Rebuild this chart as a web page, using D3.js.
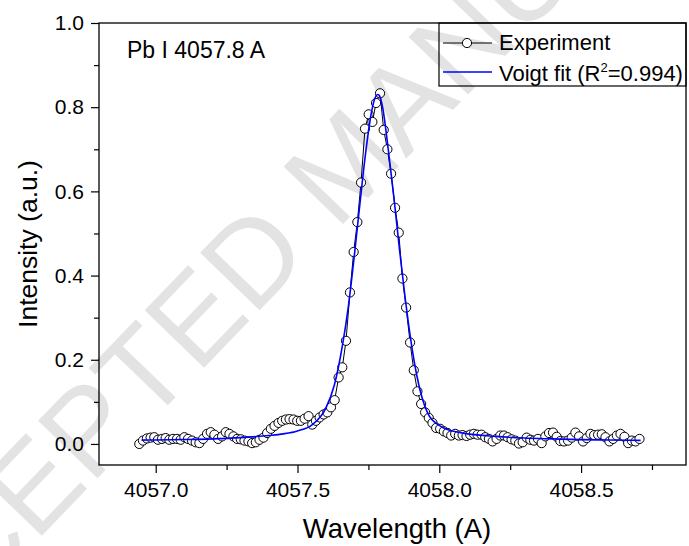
<!DOCTYPE html>
<html>
<head>
<meta charset="utf-8">
<script src="https://cdn.jsdelivr.net/npm/d3@7"></script>
<style>
  body { margin: 0; background: #fff; }
  svg { display: block; font-family: "Liberation Sans", Arial, sans-serif; }
  .axis text { font-size: 21px; fill: #000; }
  .axis line { stroke: #000; stroke-width: 1.2; }
</style>
</head>
<body>
<script>
// measured spectrum, Pb I line (wavelength in A, intensity in a.u.)
const wavelength = [
  4056.942, 4056.955, 4056.969, 4056.982, 4056.995, 4057.008, 4057.022, 4057.035, 4057.048, 4057.061,
  4057.075, 4057.088, 4057.101, 4057.114, 4057.128, 4057.141, 4057.154, 4057.167, 4057.181, 4057.194,
  4057.207, 4057.220, 4057.234, 4057.247, 4057.260, 4057.274, 4057.287, 4057.300, 4057.313, 4057.327,
  4057.340, 4057.353, 4057.366, 4057.380, 4057.393, 4057.406, 4057.419, 4057.433, 4057.446, 4057.459,
  4057.472, 4057.486, 4057.499, 4057.512, 4057.525, 4057.539, 4057.552, 4057.565, 4057.578, 4057.592,
  4057.605, 4057.618, 4057.631, 4057.645, 4057.658, 4057.671, 4057.685, 4057.698, 4057.711, 4057.724,
  4057.738, 4057.751, 4057.764, 4057.777, 4057.791, 4057.804, 4057.817, 4057.830, 4057.844, 4057.857,
  4057.870, 4057.883, 4057.897, 4057.910, 4057.923, 4057.936, 4057.950, 4057.963, 4057.976, 4057.989,
  4058.003, 4058.016, 4058.029, 4058.042, 4058.056, 4058.069, 4058.082, 4058.096, 4058.109, 4058.122,
  4058.135, 4058.149, 4058.162, 4058.175, 4058.188, 4058.202, 4058.215, 4058.228, 4058.241, 4058.255,
  4058.268, 4058.281, 4058.294, 4058.308, 4058.321, 4058.334, 4058.348, 4058.361, 4058.374, 4058.387,
  4058.401, 4058.414, 4058.427, 4058.440, 4058.454, 4058.467, 4058.480, 4058.493, 4058.507, 4058.520,
  4058.533, 4058.546, 4058.560, 4058.573, 4058.586, 4058.600, 4058.613, 4058.626, 4058.639, 4058.653,
  4058.666, 4058.679, 4058.692, 4058.706
];
const intensity = [
  0.000, 0.008, 0.013, 0.015, 0.016, 0.010, 0.012, 0.014, 0.010, 0.012,
  0.012, 0.010, 0.016, 0.012, 0.008, 0.004, 0.002, 0.012, 0.024, 0.028,
  0.022, 0.012, 0.018, 0.028, 0.024, 0.018, 0.012, 0.011, 0.008, 0.006,
  0.002, 0.004, 0.010, 0.015, 0.026, 0.036, 0.043, 0.050, 0.055, 0.058,
  0.059, 0.058, 0.055, 0.055, 0.060, 0.066, 0.046, 0.055, 0.063, 0.070,
  0.075, 0.087, 0.104, 0.158, 0.182, 0.245, 0.360, 0.456, 0.527, 0.621,
  0.749, 0.783, 0.765, 0.810, 0.833, 0.746, 0.700, 0.642, 0.561, 0.502,
  0.393, 0.324, 0.241, 0.175, 0.125, 0.095, 0.075, 0.062, 0.050, 0.038,
  0.036, 0.030, 0.026, 0.020, 0.024, 0.020, 0.021, 0.019, 0.022, 0.024,
  0.022, 0.022, 0.016, 0.012, 0.006, 0.012, 0.020, 0.020, 0.016, 0.011,
  0.008, 0.001, 0.004, 0.015, 0.010, 0.008, 0.012, 0.002, 0.018, 0.026,
  0.027, 0.017, 0.007, 0.006, 0.008, 0.015, 0.027, 0.018, 0.006, 0.014,
  0.024, 0.021, 0.022, 0.023, 0.016, 0.006, 0.012, 0.020, 0.024, 0.017,
  0.002, 0.008, 0.006, 0.012
];

// Voigt fit curve
const fit_wavelength = [
  4056.95, 4057.00, 4057.10, 4057.20, 4057.30, 4057.40, 4057.45, 4057.50, 4057.55, 4057.60,
  4057.63, 4057.66, 4057.68, 4057.70, 4057.72, 4057.74, 4057.76, 4057.77, 4057.783, 4057.79,
  4057.80, 4057.82, 4057.84, 4057.86, 4057.88, 4057.90, 4057.92, 4057.94, 4057.96, 4058.00,
  4058.05, 4058.10, 4058.20, 4058.30, 4058.40, 4058.50, 4058.60, 4058.71
];
const fit_intensity = [
  0.0090, 0.0095, 0.0105, 0.0120, 0.0150, 0.0200, 0.0240, 0.0310, 0.0450, 0.0850,
  0.140, 0.240, 0.330, 0.445, 0.570, 0.690, 0.785, 0.815, 0.830, 0.826,
  0.800, 0.700, 0.585, 0.460, 0.345, 0.245, 0.165, 0.108, 0.072, 0.044,
  0.030, 0.024, 0.018, 0.014, 0.012, 0.0103, 0.0093, 0.0086
];

const x_ticks = [4057.0, 4057.5, 4058.0, 4058.5];
const x_minor = [4057.25, 4057.75, 4058.25, 4058.75];
const y_ticks = [0.0, 0.2, 0.4, 0.6, 0.8, 1.0];
const y_minor = [0.1, 0.3, 0.5, 0.7, 0.9];

const legend_labels = ["Experiment", "Voigt fit"];

const width = 689, height = 546;
// plot frame edges
const frame = { left: 99, right: 686, top: 23, bottom: 465 };

let svg = d3.select("body").append("svg")
  .attr("width", width)
  .attr("height", height);

// grey journal watermark, sits behind the plot
// (the "ACC" part runs off the lower left corner)
svg.append("text")
  .attr("transform", "translate(30,548) rotate(-46)")
  .attr("x", -246)
  .attr("font-size", 120)
  .attr("fill", "#e3e3e3")
  .text("ACCEPTED MANUSCRIPT");

let x = d3.scaleLinear().domain([4056.8, 4058.87]).range([frame.left, frame.right]);
let y = d3.scaleLinear().domain([-0.05, 1.0]).range([frame.bottom, frame.top]);

// axes: major ticks with labels, minor ticks without
svg.append("g").attr("class", "axis")
  .attr("transform", `translate(0,${frame.bottom})`)
  .call(d3.axisBottom(x).tickValues(x_ticks).tickSize(8).tickPadding(9).tickFormat(d3.format(".1f")))
  .call(g => g.select(".domain").remove());
svg.append("g").attr("class", "axis")
  .attr("transform", `translate(0,${frame.bottom})`)
  .call(d3.axisBottom(x).tickValues(x_minor).tickSize(5).tickFormat(""))
  .call(g => g.select(".domain").remove());
svg.append("g").attr("class", "axis")
  .attr("transform", `translate(${frame.left},0)`)
  .call(d3.axisLeft(y).tickValues(y_ticks).tickSize(8).tickPadding(7).tickFormat(d3.format(".1f")))
  .call(g => g.select(".domain").remove());
svg.append("g").attr("class", "axis")
  .attr("transform", `translate(${frame.left},0)`)
  .call(d3.axisLeft(y).tickValues(y_minor).tickSize(5).tickFormat(""))
  .call(g => g.select(".domain").remove());

svg.append("rect")
  .attr("x", frame.left).attr("y", frame.top)
  .attr("width", frame.right - frame.left).attr("height", frame.bottom - frame.top)
  .attr("fill", "none").attr("stroke", "#000").attr("stroke-width", 1.3);

// experiment: thin line + open circles
let points = wavelength.map((w, i) => ({ w: w, v: intensity[i] }));

svg.append("path")
  .datum(points)
  .attr("fill", "none").attr("stroke", "#000").attr("stroke-width", 1)
  .attr("d", d3.line().x(d => x(d.w)).y(d => y(d.v)));

svg.append("g").selectAll("circle")
  .data(points)
  .join("circle")
  .attr("cx", d => x(d.w))
  .attr("cy", d => y(d.v))
  .attr("r", 4.6)
  .attr("fill", "#fff").attr("stroke", "#000").attr("stroke-width", 1);

// fit curve on top
let fit_points = fit_wavelength.map((w, i) => ({ w: w, v: fit_intensity[i] }));
svg.append("path")
  .datum(fit_points)
  .attr("fill", "none").attr("stroke", "#0000ff").attr("stroke-width", 1.6)
  .attr("d", d3.line().curve(d3.curveMonotoneX).x(d => x(d.w)).y(d => y(d.v)));

// annotation
svg.append("text")
  .attr("x", 127).attr("y", 58)
  .attr("font-size", 23)
  .text("Pb I 4057.8 A");

// legend
let legend = svg.append("g");
legend.append("rect")
  .attr("x", 439).attr("y", frame.top)
  .attr("width", frame.right - 439).attr("height", 63)
  .attr("fill", "none").attr("stroke", "#000").attr("stroke-width", 1.2);

legend.append("line")
  .attr("x1", 443).attr("x2", 492).attr("y1", 43).attr("y2", 43)
  .attr("stroke", "#000").attr("stroke-width", 1);
legend.append("circle")
  .attr("cx", 467).attr("cy", 43).attr("r", 4.6)
  .attr("fill", "#fff").attr("stroke", "#000");
legend.append("text")
  .attr("x", 499).attr("y", 50).attr("font-size", 22)
  .text(legend_labels[0]);

legend.append("line")
  .attr("x1", 443).attr("x2", 492).attr("y1", 72).attr("y2", 72)
  .attr("stroke", "#0000ff").attr("stroke-width", 1.4);
let fit_label = legend.append("text")
  .attr("x", 499).attr("y", 81).attr("font-size", 22);
fit_label.append("tspan").text(legend_labels[1] + " (R");
fit_label.append("tspan").attr("font-size", 13).attr("dy", -9).text("2");
fit_label.append("tspan").attr("dy", 9).text("=0.994)");

// axis titles
svg.append("text")
  .attr("x", 397).attr("y", 538)
  .attr("text-anchor", "middle").attr("font-size", 27.5)
  .text("Wavelength (A)");
svg.append("text")
  .attr("transform", `translate(37,${(frame.top + frame.bottom) / 2}) rotate(-90)`)
  .attr("text-anchor", "middle").attr("font-size", 26.5)
  .text("Intensity (a.u.)");
</script>
</body>
</html>
